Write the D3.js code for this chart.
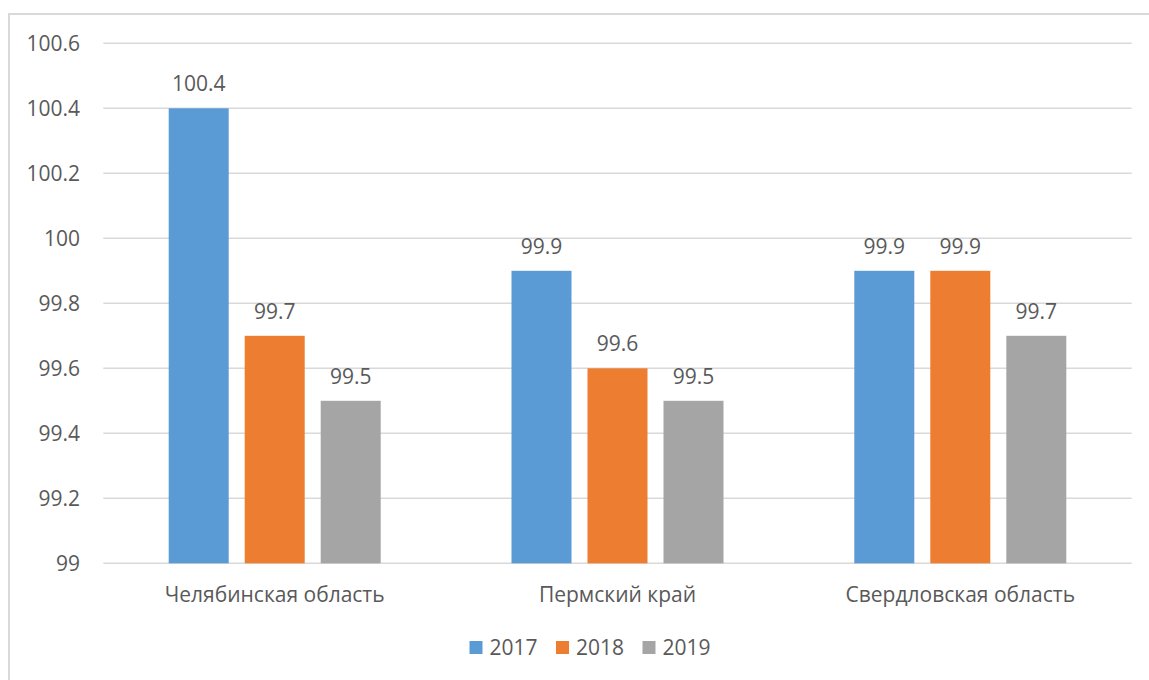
<!DOCTYPE html>
<html>
<head>
<meta charset="utf-8">
<script src="https://d3js.org/d3.v7.min.js"></script>
<style>
  body { margin: 0; background: #fff; }
  text { font-family: "Open Sans", sans-serif; fill: #595959; }
</style>
</head>
<body>
<svg width="1149" height="680"></svg>
<script>
// data
var regions = ["Челябинская область", "Пермский край", "Свердловская область"];
var years = ["2017", "2018", "2019"];
var values2017 = [100.4, 99.9, 99.9];
var values2018 = [99.7, 99.6, 99.9];
var values2019 = [99.5, 99.5, 99.7];
var yTicks = [99, 99.2, 99.4, 99.6, 99.8, 100, 100.2, 100.4, 100.6];
var colors = ["#5B9BD5", "#ED7D31", "#A5A5A5"];

var series = [values2017, values2018, values2019];
var rows = regions.map(function(r, i) {
    return { region: r, vals: years.map(function(y, j) { return { year: y, v: series[j][i] }; }) };
});

var svg = d3.select("svg");

// outer frame
svg.append("rect")
    .attr("x", 9).attr("y", 14)
    .attr("width", 1160).attr("height", 700)
    .attr("fill", "none")
    .attr("stroke", "#D9D9D9")
    .attr("stroke-width", 2);

// plot box (window.top is reserved, so use other names)
var plotLeft = 103.3, plotRight = 1131.7, plotTop = 43.3, plotBottom = 563.3;

var y = d3.scaleLinear().domain([99, 100.6]).range([plotBottom, plotTop]);
var x0 = d3.scaleBand().domain(regions).range([plotLeft, plotRight]).padding(0);
var x1 = d3.scaleBand().domain(years).range([0, x0.bandwidth()])
    .paddingInner(16 / 76).paddingOuter(0.8605);

// gridlines
svg.append("g").selectAll("line")
    .data(yTicks)
    .enter().append("line")
    .attr("x1", plotLeft).attr("x2", plotRight)
    .attr("y1", function(d) { return y(d); })
    .attr("y2", function(d) { return y(d); })
    .attr("stroke", "#D9D9D9")
    .attr("stroke-width", 1.5);

// y tick labels
svg.append("g").selectAll("text")
    .data(yTicks)
    .enter().append("text")
    .attr("x", 80)
    .attr("y", function(d) { return y(d); })
    .attr("dy", "0.36em")
    .attr("text-anchor", "end")
    .style("font-size", "21px")
    .text(function(d) { return +d.toFixed(1); });

// bars
var groups = svg.append("g").selectAll("g")
    .data(rows)
    .enter().append("g")
    .attr("transform", function(d) { return "translate(" + x0(d.region) + ",0)"; });

groups.selectAll("rect")
    .data(function(d) { return d.vals; })
    .enter().append("rect")
    .attr("x", function(d) { return x1(d.year); })
    .attr("width", x1.bandwidth())
    .attr("y", function(d) { return y(d.v); })
    .attr("height", function(d) { return y(99) - y(d.v); })
    .attr("fill", function(d, i) { return colors[i]; });

groups.selectAll("text")
    .data(function(d) { return d.vals; })
    .enter().append("text")
    .attr("x", function(d) { return x1(d.year) + x1.bandwidth() / 2; })
    .attr("y", function(d) { return y(d.v) - 17; })
    .attr("text-anchor", "middle")
    .style("font-size", "21px")
    .text(function(d) { return d.v; });

// category labels
svg.append("g").selectAll("text")
    .data(regions)
    .enter().append("text")
    .attr("x", function(d) { return x0(d) + x0.bandwidth() / 2; })
    .attr("y", 602)
    .attr("text-anchor", "middle")
    .style("font-size", "21px")
    .text(function(d) { return d; });

// legend
var legend = svg.append("g").selectAll("g")
    .data(years)
    .enter().append("g")
    .attr("transform", function(d, i) { return "translate(" + (469.5 + i * 86.5) + ",641)"; });

legend.append("rect")
    .attr("width", 13).attr("height", 13)
    .attr("fill", function(d, i) { return colors[i]; });

legend.append("text")
    .attr("x", 20).attr("y", 14)
    .style("font-size", "21px")
    .text(function(d) { return d; });
</script>
</body>
</html>
